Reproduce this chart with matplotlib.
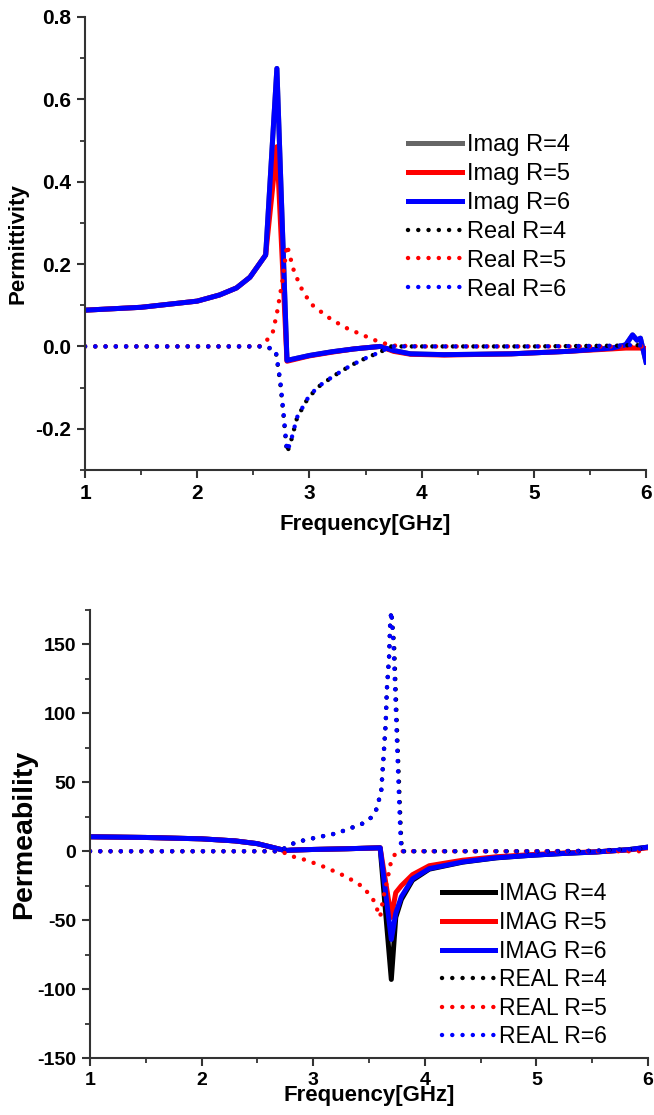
import numpy as np
import matplotlib
matplotlib.use("Agg")
import matplotlib.pyplot as plt
from matplotlib.ticker import MultipleLocator

plt.rcParams['font.family'] = ['Liberation Sans', 'DejaVu Sans']
plt.rcParams['font.weight'] = 'bold'
plt.rcParams['axes.unicode_minus'] = False

# ---- permittivity (top panel) ----
f_eps_im = [1.0, 1.5, 2.0, 2.2, 2.35, 2.47, 2.61, 2.71, 2.80, 3.0, 3.2, 3.4, 3.63,
            3.75, 3.9, 4.2, 4.8, 5.3, 5.7, 5.82, 5.88, 5.92, 5.95, 6.0]
eps_im_r4 = [0.088, 0.095, 0.110, 0.125, 0.142, 0.168, 0.222, 0.675, -0.034, -0.022, -0.013, -0.006, 0.0,
             -0.010, -0.018, -0.020, -0.018, -0.012, -0.004, 0.004, 0.028, 0.015, 0.020, -0.038]
eps_im_r5 = [0.088, 0.095, 0.110, 0.125, 0.142, 0.168, 0.222, 0.485, -0.036, -0.023, -0.014, -0.006, 0.0,
             -0.012, -0.019, -0.021, -0.018, -0.012, -0.006, -0.004, -0.004, -0.004, -0.004, -0.005]
eps_im_r6 = [0.088, 0.095, 0.110, 0.125, 0.142, 0.168, 0.222, 0.675, -0.034, -0.022, -0.013, -0.006, 0.0,
             -0.010, -0.018, -0.020, -0.018, -0.012, -0.004, 0.004, 0.028, 0.015, 0.020, -0.038]

f_eps_re = [1.0, 2.6, 2.66, 2.70, 2.74, 2.77, 2.80, 2.83, 2.89, 2.98, 3.07, 3.22, 3.37, 3.52,
            3.63, 3.72, 4.0, 5.0, 5.8, 5.9, 6.0]
eps_re_r4 = [0.0, 0.0, -0.006, -0.012, -0.088, -0.170, -0.258, -0.236, -0.173, -0.129, -0.100, -0.071,
             -0.046, -0.026, -0.014, 0.0, 0.0, 0.0, 0.002, 0.004, 0.0]
eps_re_r6 = [0.0, 0.0, -0.005, -0.010, -0.083, -0.164, -0.254, -0.235, -0.172, -0.128, -0.099, -0.071,
             -0.046, -0.026, -0.014, 0.0, 0.0, 0.0, 0.002, 0.004, 0.0]
f_eps_re5 = [1.0, 2.55, 2.59, 2.67, 2.71, 2.76, 2.80, 2.86, 2.92, 3.01, 3.16, 3.31, 3.48, 3.63,
             3.75, 4.0, 6.0]
eps_re_r5 = [0.0, 0.0, 0.006, 0.030, 0.080, 0.160, 0.246, 0.185, 0.145, 0.104, 0.072, 0.047, 0.027,
             0.010, 0.002, 0.0, 0.0]

# ---- permeability (bottom panel) ----
f_mu_im = [1.0, 1.5, 2.0, 2.3, 2.5, 2.65, 2.75, 2.8, 3.0, 3.3, 3.6, 3.70, 3.74, 3.79, 3.89,
           4.04, 4.34, 4.64, 4.94, 5.24, 5.54, 5.83, 6.0]
mu_im_r4 = [10.5, 10.0, 9.0, 7.5, 5.5, 2.5, 0.5, 0.8, 1.3, 1.8, 2.5, -93.0, -48.0, -35.0, -21.0,
            -13.0, -7.9, -4.8, -3.0, -1.6, -0.5, 1.2, 3.0]
mu_im_r5 = [10.5, 10.0, 9.0, 7.5, 5.5, 2.5, 0.5, 0.8, 1.3, 1.8, 2.5, -48.0, -30.0, -25.0, -17.0,
            -10.5, -6.5, -4.0, -2.5, -1.3, -0.4, 1.0, 2.5]
mu_im_r6 = [10.5, 10.0, 9.0, 7.5, 5.5, 2.5, 0.5, 0.8, 1.3, 1.8, 2.5, -64.0, -45.0, -33.0, -20.0,
            -12.6, -7.7, -4.7, -3.0, -1.6, -0.5, 1.2, 3.0]

f_mu_re = [1.0, 2.7, 2.78, 2.85, 3.03, 3.21, 3.36, 3.44, 3.53, 3.57, 3.61, 3.63, 3.65, 3.66,
           3.68, 3.69, 3.70, 3.72, 3.75, 3.78, 3.79, 4.0, 5.0, 5.5, 6.0]
mu_re_r6 = [0.0, 0.0, 4.0, 6.7, 10.0, 13.0, 17.5, 20.0, 25.0, 31.0, 44.0, 68.0, 93.0, 117.0,
            141.0, 165.0, 174.0, 150.0, 80.0, 15.0, 0.0, 0.0, 0.0, 0.3, 2.0]
f_mu_re4 = [1.0, 2.7, 2.78, 2.85, 3.03, 3.21, 3.36, 3.44, 3.53, 3.57, 3.61, 3.63, 3.65, 3.66,
            3.68, 3.69, 3.70, 3.725, 3.755, 3.785, 3.795, 4.0, 5.0, 5.5, 6.0]
mu_re_r4 = [0.0, 0.0, 4.0, 6.7, 10.0, 13.0, 17.5, 20.0, 25.0, 31.0, 44.0, 68.0, 93.0, 117.0,
            141.0, 165.0, 174.0, 150.0, 80.0, 15.0, 0.0, 0.0, 0.0, 0.3, 2.0]
f_mu_re5 = [1.0, 2.72, 2.78, 2.94, 3.12, 3.30, 3.45, 3.54, 3.60, 3.63, 3.67, 3.70, 3.75, 6.0]
mu_re_r5 = [0.0, 0.0, -3.0, -6.5, -12.0, -18.6, -26.0, -35.5, -47.6, -33.0, -18.6, -6.5, 0.0, 0.0]

SOLID_LW = 3.6
DOT_LW = 3.2
DOTS = (0, (0.01, 2.3))


def style_axes(ax, tick_size):
    for side in ['top', 'right']:
        ax.spines[side].set_visible(False)
    for side in ['left', 'bottom']:
        ax.spines[side].set_linewidth(1.5)
        ax.spines[side].set_color('#333333')
    ax.tick_params(which='major', direction='out', length=6, width=1.5, color='#333333',
                   labelsize=tick_size, pad=4)
    ax.tick_params(which='minor', direction='out', length=3.5, width=1.3, color='#333333')


def dotted(ax, x, y, color, label):
    ax.plot(x, y, color=color, lw=DOT_LW, ls=DOTS, dash_capstyle='round', label=label)


fig = plt.figure(figsize=(6.54, 11.15), dpi=100)

ax1 = fig.add_axes([0.130, 0.5785, 0.8578, 0.4063])
ax1.plot(f_eps_im, eps_im_r4, color='#666666', lw=SOLID_LW, label='Imag R=4')
ax1.plot(f_eps_im, eps_im_r5, color='red', lw=SOLID_LW, label='Imag R=5')
ax1.plot(f_eps_im, eps_im_r6, color='blue', lw=SOLID_LW, label='Imag R=6')
dotted(ax1, f_eps_re, eps_re_r4, 'black', 'Real R=4')
dotted(ax1, f_eps_re5, eps_re_r5, 'red', 'Real R=5')
dotted(ax1, f_eps_re, eps_re_r6, 'blue', 'Real R=6')
ax1.set_xlim(1, 6)
ax1.set_ylim(-0.3, 0.8)
ax1.xaxis.set_major_locator(MultipleLocator(1))
ax1.xaxis.set_minor_locator(MultipleLocator(0.5))
ax1.yaxis.set_minor_locator(MultipleLocator(0.1))
ax1.set_yticks([-0.2, 0.0, 0.2, 0.4, 0.6, 0.8])
ax1.set_yticklabels(['-0.2', '0.0', '0.2', '0.4', '0.6', '0.8'])
style_axes(ax1, 15)
ax1.set_xlabel('Frequency[GHz]', fontsize=16, fontweight='bold', labelpad=8)
ax1.set_ylabel('Permittivity', fontsize=16, fontweight='bold', labelpad=5)
ax1.legend(loc='upper left', bbox_to_anchor=(0.576, 0.741), frameon=False,
           prop={'size': 17, 'weight': 'normal'},
           handlelength=2.3, handletextpad=0.2, labelspacing=0.29, borderpad=0, borderaxespad=0)

ax2 = fig.add_axes([0.1376, 0.0511, 0.8532, 0.4018])
ax2.plot(f_mu_im, mu_im_r4, color='black', lw=SOLID_LW, label='IMAG R=4')
ax2.plot(f_mu_im, mu_im_r5, color='red', lw=SOLID_LW, label='IMAG R=5')
ax2.plot(f_mu_im, mu_im_r6, color='blue', lw=SOLID_LW, label='IMAG R=6')
dotted(ax2, f_mu_re4, mu_re_r4, 'black', 'REAL R=4')
dotted(ax2, f_mu_re5, mu_re_r5, 'red', 'REAL R=5')
dotted(ax2, f_mu_re, mu_re_r6, 'blue', 'REAL R=6')
ax2.set_xlim(1, 6)
ax2.set_ylim(-150, 175)
ax2.xaxis.set_major_locator(MultipleLocator(1))
ax2.xaxis.set_minor_locator(MultipleLocator(0.5))
ax2.yaxis.set_major_locator(MultipleLocator(50))
ax2.yaxis.set_minor_locator(MultipleLocator(25))
style_axes(ax2, 14)
ax2.set_xlabel('Frequency[GHz]', fontsize=16, fontweight='bold', labelpad=-3)
ax2.set_ylabel('Permeability', fontsize=20.5, fontweight='bold', labelpad=0)
ax2.legend(loc='upper left', bbox_to_anchor=(0.631, 0.392), frameon=False,
           prop={'size': 16.5, 'weight': 'normal'},
           handlelength=2.3, handletextpad=0.2, labelspacing=0.245, borderpad=0, borderaxespad=0)

fig.savefig('out.png', dpi=100)
